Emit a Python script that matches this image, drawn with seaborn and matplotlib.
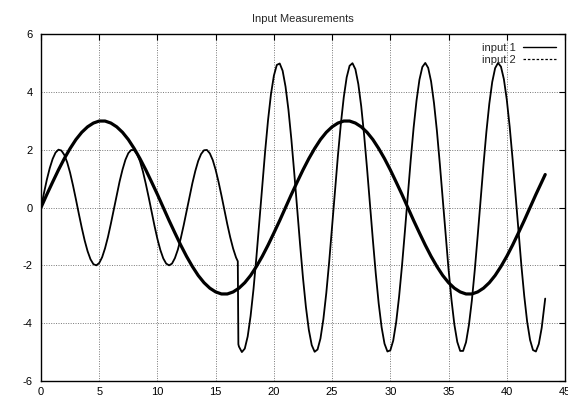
import seaborn as sns
import matplotlib.pyplot as plt
from matplotlib.lines import Line2D

# input 1: slow wave (amplitude ~3), read every 0.5 along x
x_input_1 = [0.5 * k for k in range(87)] + [43.3]
input_1 = [
    0, 0.45, 0.88, 1.30, 1.69, 2.04, 2.35, 2.60, 2.79, 2.92,
    2.99, 2.99, 2.92, 2.79, 2.60, 2.35, 2.04, 1.69, 1.30, 0.88,
    0.45, 0, -0.45, -0.88, -1.30, -1.69, -2.04, -2.35, -2.60, -2.79,
    -2.92, -2.99, -2.99, -2.92, -2.79, -2.60, -2.35, -2.04, -1.69, -1.30,
    -0.88, -0.45, 0,
    0.45, 0.88, 1.30, 1.69, 2.04, 2.35, 2.60, 2.79, 2.92, 2.99,
    2.99, 2.92, 2.79, 2.60, 2.35, 2.04, 1.69, 1.30, 0.88, 0.45,
    0, -0.45, -0.88, -1.30, -1.69, -2.04, -2.35, -2.60, -2.79, -2.92,
    -2.99, -2.99, -2.92, -2.79, -2.60, -2.35, -2.04, -1.69, -1.30, -0.88,
    -0.45, 0, 0.45, 0.88,
    1.14,
]

# input 2: fast wave, amplitude ~2 up to x~17, then ~5; read every 0.25
x_input_2 = ([0.25 * k for k in range(68)] + [16.9, 16.95]
             + [17 + 0.25 * k for k in range(106)] + [43.3])
input_2 = [
    0, 0.49, 0.96, 1.36, 1.68, 1.90, 2.00, 1.97, 1.82, 1.56,
    1.20, 0.76, 0.28, -0.22, -0.70, -1.14, -1.51, -1.79, -1.96, -2.00,
    -1.92, -1.72, -1.41, -1.02, -0.56, -0.07, 0.43, 0.90, 1.31, 1.65,
    1.88, 1.99, 1.98, 1.85, 1.60, 1.25, 0.82, 0.35, -0.15, -0.64,
    -1.09, -1.47, -1.76, -1.94, -2.00, -1.94, -1.75, -1.46, -1.07, -0.62,
    -0.13, 0.37, 0.84, 1.26, 1.61, 1.85, 1.98, 1.99, 1.87, 1.64,
    1.30, 0.88, 0.41, -0.08, -0.58, -1.03, -1.42, -1.73,
    -1.86, -4.73,
    -4.81, -5.00, -4.88, -4.46, -3.75, -2.82, -1.71, -0.50, 0.75, 1.95,
    3.03, 3.92, 4.56, 4.93, 4.98, 4.73, 4.18, 3.38, 2.36, 1.19,
    -0.04, -1.28, -2.44, -3.44, -4.23, -4.76, -4.99, -4.91, -4.53, -3.86,
    -2.96, -1.87, -0.66, 0.58, 1.80, 2.89, 3.81, 4.50, 4.90, 4.99,
    4.78, 4.27, 3.50, 2.50, 1.35, 0.12, -1.12, -2.29, -3.32, -4.14,
    -4.71, -4.98, -4.94, -4.60, -3.97, -3.09, -2.02, -0.83, 0.42, 1.64,
    2.76, 3.70, 4.42, 4.86, 5.00, 4.83, 4.36, 3.61, 2.65, 1.51,
    0.29, -0.96, -2.14, -3.19, -4.05, -4.65, -4.96, -4.96, -4.66, -4.06,
    -3.22, -2.17, -0.99, 0.25, 1.48, 2.62, 3.59, 4.34, 4.82, 5.00,
    4.87, 4.44, 3.73, 2.79, 1.67, 0.45, -0.79, -1.99, -3.06, -3.95,
    -4.58, -4.93, -4.98, -4.72, -4.16, -3.34,
    -3.15,
]

series_labels = ['input 1', 'input 2']

sns.set_style("white")
plt.rcParams['font.family'] = ['Liberation Sans', 'DejaVu Sans']
plt.rcParams['axes.unicode_minus'] = False

fig, ax = plt.subplots(figsize=(5.68, 3.99), dpi=100)
fig.subplots_adjust(left=41 / 568, right=565 / 568, bottom=1 - 381 / 399, top=1 - 34 / 399)

sns.lineplot(x=x_input_1, y=input_1, color='black', lw=2.3, estimator=None, sort=False, ax=ax)
sns.lineplot(x=x_input_2, y=input_2, color='black', lw=1.3, estimator=None, sort=False, ax=ax)

ax.set_xlim(0, 45)
ax.set_ylim(-6, 6)
ax.set_xticks(range(0, 46, 5))
ax.set_yticks(range(-6, 7, 2))

# gnuplot-like dotted grid
ax.grid(True, color='#777777', linestyle=(0, (1, 1.5)), linewidth=0.7)
for s in ax.spines.values():
    s.set_color('black')
    s.set_linewidth(1.0)

ax.tick_params(axis='both', direction='in', length=4, width=0.8, labelsize=8,
               top=True, right=True, colors='black')
ax.tick_params(axis='y', pad=6)
ax.tick_params(axis='x', pad=4)

ax.set_title('Input Measurements', fontsize=8, pad=9)

# Legend
handles = [
    Line2D([], [], color='black', lw=1.0, ls='-'),
    Line2D([], [], color='black', lw=0.9, ls=(0, (2, 1.5))),
]
ax.legend(handles, series_labels, loc='upper right', frameon=False, fontsize=8,
          markerfirst=False, handlelength=3.0, handletextpad=0.6,
          labelspacing=0.15, borderaxespad=0.6, borderpad=0.2)

plt.savefig('out.png', dpi=100)
